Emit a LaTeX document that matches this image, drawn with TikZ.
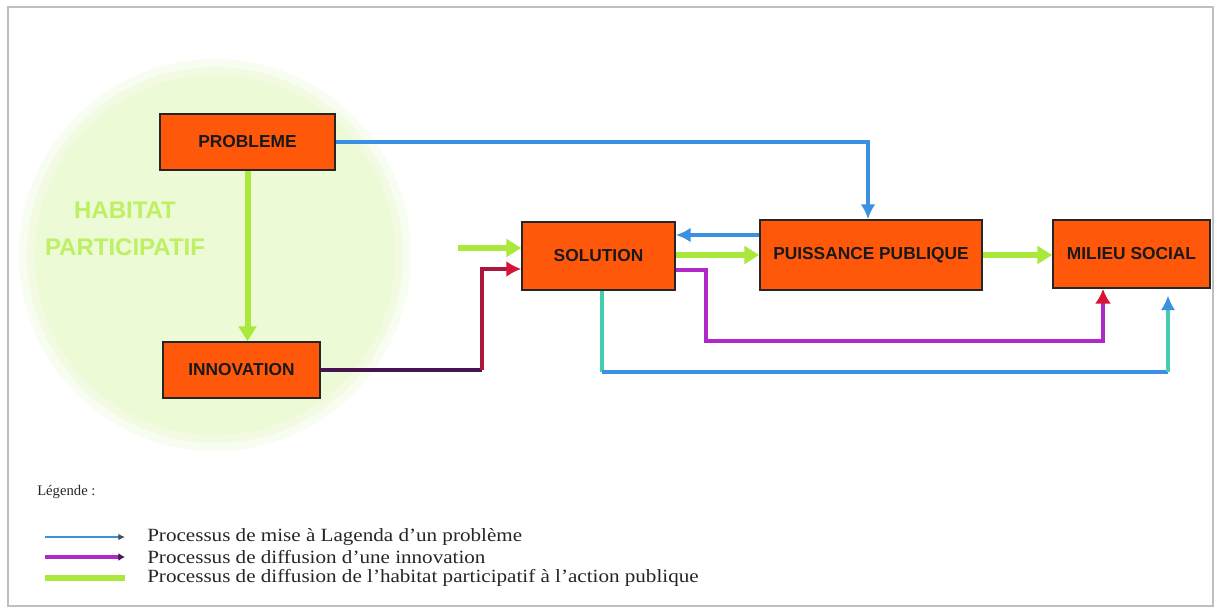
\documentclass[tikz,border=0pt]{standalone}
\usepackage{fontspec}
\setmainfont{Liberation Serif}
\setsansfont{Liberation Sans}
\newfontfamily\legfont[FakeStretch=1.13,Ligatures=TeX]{Liberation Serif}
\usetikzlibrary{arrows.meta}
\definecolor{boxfill}{RGB}{255,88,10}
\definecolor{grn}{RGB}{170,232,60}
\definecolor{blu}{RGB}{58,145,225}
\definecolor{mag}{RGB}{176,40,200}
\definecolor{darkpur}{RGB}{70,20,80}
\definecolor{darkred}{RGB}{170,25,60}
\definecolor{tipred}{RGB}{215,20,55}
\definecolor{tealc}{RGB}{70,205,175}
\definecolor{circfill}{RGB}{236,250,214}
\definecolor{circtext}{RGB}{190,240,100}
\tikzset{
  boxnode/.style={draw=black!85, line width=1.3pt, fill=boxfill, inner sep=0pt,
    font=\sffamily\bfseries\fontsize{13}{15}\selectfont, text=black!90},
  grnline/.style={draw=grn, line width=4.5pt, -{Triangle[length=11pt,width=13pt]}},
  bluline/.style={draw=blu, line width=2.6pt, -{Latex[length=11pt,width=11pt]}},
  bluplain/.style={draw=blu, line width=2.6pt},
  magline/.style={draw=mag, line width=3.4pt},
  tealplain/.style={draw=tealc, line width=2.6pt},
  legtext/.style={anchor=west, font=\legfont\fontsize{14}{16}\selectfont, text=black!85, inner sep=0pt},
}
\begin{document}
\begin{tikzpicture}[x=0.75pt, y=-0.75pt]
\useasboundingbox (0,0) rectangle (1215,611);
\fill[white] (0,0) rectangle (1215,611);
\draw[black!25, line width=1pt] (8,7) rectangle (1213,606);
% circle
\fill[circfill!35] (215,255) circle[radius=196];
\fill[circfill!70] (215,255) circle[radius=188];
\fill[circfill] (215,255) circle[radius=180];
\node[font=\sffamily\bfseries\fontsize{18}{22}\selectfont, text=circtext, align=center] (ctx) at (125,229) {HABITAT\\[6pt]PARTICIPATIF};
% boxes
\node[boxnode, minimum width=131.25pt, minimum height=42pt] (prob) at (247.5,142) {PROBLEME};
\node[boxnode, minimum width=117.75pt, minimum height=42pt] (innov) at (241.5,370) {INNOVATION};
\node[boxnode, minimum width=114.75pt, minimum height=51pt] (sol) at (598.5,256) {SOLUTION};
\node[boxnode, minimum width=166.5pt, minimum height=52.5pt] (puis) at (871,255) {PUISSANCE PUBLIQUE};
\node[boxnode, minimum width=117.75pt, minimum height=51pt] (mil) at (1131.5,254) {MILIEU SOCIAL};
% green connectors
\draw[grnline] (prob.south) -- (prob.south |- innov.north);
\coordinate (gin) at (458,248);
\draw[grnline] (gin) -- (gin -| sol.west);
\draw[grnline] (sol.east |- 0,255) -- (puis.west |- 0,255);
\draw[grnline] (puis.east) -- (puis.east -| mil.west);
% blue connectors
\draw[bluline] (prob.east) -| ([xshift=-2.25pt]puis.north);
\draw[bluline] (puis.west |- 0,235) -- (sol.east |- 0,235);
% innovation -> solution
\coordinate (k1) at (482,370);
\draw[draw=darkpur, line width=3pt] (innov.east) -- (k1);
\draw[draw=darkred, line width=3pt, -{Latex[length=11pt,width=12pt,color=tipred]}] (k1) |- (sol.west |- 0,269);
% solution -> milieu (magenta)
\coordinate (k2) at (706,341);
\draw[magline, -{Latex[length=11pt,width=12pt,color=tipred]}] (sol.east |- 0,270) -| (k2) -| (mil.south -| 1103,0);
% solution -> milieu (teal/blue)
\coordinate (k3) at (602,372);
\coordinate (k4) at (1168,372);
\draw[tealplain] (sol.south -| k3) -- (k3);
\draw[bluplain] (k3) -- (k4);
\draw[tealplain, -{Latex[length=11pt,width=11pt,color=blu]}, shorten >=5pt] (k4) -- (mil.south -| k4);
% legend
\node[anchor=west, inner sep=0pt, font=\fontsize{11}{13}\selectfont, text=black!85] (legt) at (37,492) {Légende :};
\coordinate (l1a) at (45,537); \coordinate (l1b) at (125,537);
\coordinate (l2a) at (45,557); \coordinate (l2b) at (125,557);
\coordinate (l3a) at (45,578); \coordinate (l3b) at (125,578);
\draw[blu, line width=2pt, -{Latex[length=5pt,width=5pt,color=black!70]}] (l1a) -- (l1b);
\draw[mag, line width=3.2pt, -{Latex[length=5pt,width=6pt,color=darkpur]}] (l2a) -- (l2b);
\draw[grn, line width=4.5pt] (l3a) -- (l3b);
\node[legtext] (t1) at (147,537) {Processus de mise à Lagenda d'un problème};
\node[legtext] (t2) at (147,557) {Processus de diffusion d'une innovation};
\node[legtext] (t3) at (147,578) {Processus de diffusion de l'habitat participatif à l'action publique};
\end{tikzpicture}
\end{document}
